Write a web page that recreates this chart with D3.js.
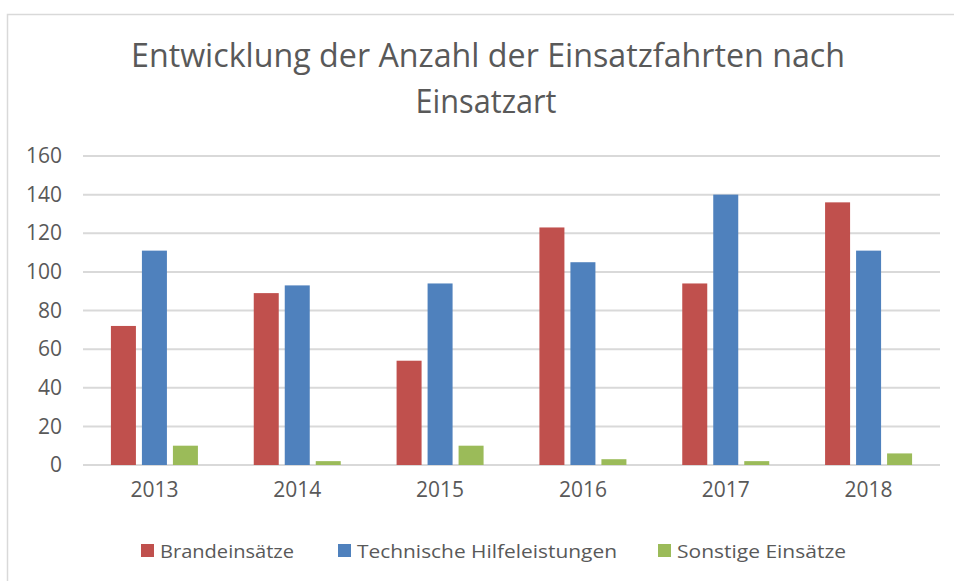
<!DOCTYPE html>
<html>
<head>
<meta charset="utf-8">
<script src="https://cdn.jsdelivr.net/npm/d3@7"></script>
<style>
  body { margin: 0; background: #fff; }
  text { font-family: "Open Sans", sans-serif; fill: #595959; }
</style>
</head>
<body>
<script>
var years = ["2013", "2014", "2015", "2016", "2017", "2018"];
var seriesNames = ["Brandeinsätze", "Technische Hilfeleistungen", "Sonstige Einsätze"];
var brand = [72, 89, 54, 123, 94, 136];
var technisch = [111, 93, 94, 105, 140, 111];
var sonstige = [10, 2, 10, 3, 2, 6];
var yTicks = [0, 20, 40, 60, 80, 100, 120, 140, 160];
var colors = ["#C0504D", "#4F81BD", "#9BBB59"];

var W = 954, H = 581;
var svg = d3.select("body").append("svg").attr("width", W).attr("height", H);

// chart frame
svg.append("rect").attr("x", 7.5).attr("y", 14.5).attr("width", 980).attr("height", 600)
  .attr("fill", "none").attr("stroke", "#d9d9d9").attr("stroke-width", 1.5);

// title
var title = svg.append("g");
title.append("text").attr("x", 488).attr("y", 67).attr("text-anchor", "middle")
  .attr("font-size", 32).attr("textLength", 714).attr("lengthAdjust", "spacingAndGlyphs")
  .text("Entwicklung der Anzahl der Einsatzfahrten nach");
title.append("text").attr("x", 486).attr("y", 113).attr("text-anchor", "middle")
  .attr("font-size", 32).attr("textLength", 141).attr("lengthAdjust", "spacingAndGlyphs")
  .text("Einsatzart");

var plotLeft = 83, plotRight = 940, plotTop = 156, plotBottom = 465;

var x = d3.scaleBand().domain(years).range([plotLeft, plotRight]).paddingInner(0).paddingOuter(0);
var y = d3.scaleLinear().domain([0, 160]).range([plotBottom, plotTop]);

// gridlines
svg.append("g").selectAll("line").data(yTicks).enter().append("line")
  .attr("x1", plotLeft).attr("x2", plotRight)
  .attr("y1", function(d) { return y(d); }).attr("y2", function(d) { return y(d); })
  .attr("stroke", "#d9d9d9").attr("stroke-width", 2);

// y axis labels
var yAxis = d3.axisLeft(y).tickValues(yTicks).tickSize(0).tickPadding(0);
var ya = svg.append("g").attr("transform", "translate(62,0)").call(yAxis);
ya.select(".domain").remove();
ya.selectAll("text").attr("font-size", 21).style("font-family", "Open Sans").attr("fill", "#595959");

// x axis labels
var xAxis = d3.axisBottom(x).tickSize(0).tickPadding(0);
var xa = svg.append("g").attr("transform", "translate(0,482)").call(xAxis);
xa.select(".domain").remove();
xa.selectAll("text").attr("font-size", 21).style("font-family", "Open Sans").attr("fill", "#595959");

// bars
var table = years.map(function(yr, i) {
  return { year: yr, values: [brand[i], technisch[i], sonstige[i]] };
});
var barW = 25, gap = 6;
var groupW = 3 * barW + 2 * gap;
var groups = svg.append("g").selectAll("g").data(table).enter().append("g")
  .attr("transform", function(d) { return "translate(" + (x(d.year) + (x.bandwidth() - groupW) / 2) + ",0)"; });
groups.selectAll("rect").data(function(d) { return d.values; }).enter().append("rect")
  .attr("x", function(d, i) { return i * (barW + gap); })
  .attr("y", function(d) { return y(d); })
  .attr("width", barW)
  .attr("height", function(d) { return y(0) - y(d); })
  .attr("fill", function(d, i) { return colors[i]; });

// legend
var legendX = [141, 338, 658];
var legendW = [134, 260, 169];
var lg = svg.append("g").selectAll("g").data(seriesNames).enter().append("g")
  .attr("transform", function(d, i) { return "translate(" + legendX[i] + ",544)"; });
lg.append("rect").attr("width", 13).attr("height", 13).attr("fill", function(d, i) { return colors[i]; });
lg.append("text").attr("x", 19).attr("y", 13.5).attr("font-size", 19)
  .attr("textLength", function(d, i) { return legendW[i]; }).attr("lengthAdjust", "spacingAndGlyphs")
  .text(function(d) { return d; });
</script>
</body>
</html>
